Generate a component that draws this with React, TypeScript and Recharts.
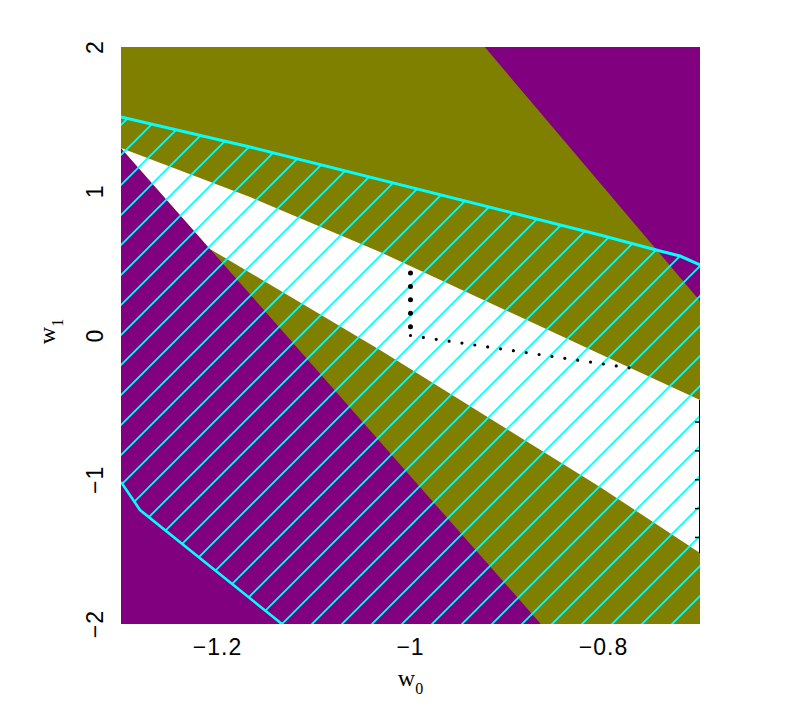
import React from 'react';
import { ComposedChart, XAxis, YAxis, Scatter } from 'recharts';

// Polygon / polyline vertices in data coordinates (w0, w1)
const backgroundPolygon = [
  { x: -1.3, y: 2 }, { x: -0.7, y: 2 }, { x: -0.7, y: -2 }, { x: -1.3, y: -2 },
];
const olivePolygon = [
  { x: -1.3, y: 2 }, { x: -0.923, y: 2 }, { x: -0.7, y: 0.239 }, { x: -0.7, y: -2 },
  { x: -0.865, y: -2 }, { x: -1.3, y: 1.3 },
];
const whitePolygon = [
  { x: -1.3, y: 1.3 }, { x: -1.1663, y: 0.96 }, { x: -1.0316, y: 0.579 }, { x: -0.8036, y: -0.128 },
  { x: -0.7, y: -0.447 }, { x: -0.7, y: -1.508 }, { x: -0.8036, y: -1.05 }, { x: -1.0316, y: -0.1 },
  { x: -1.2078, y: 0.6 },
];
const upperBorder = [
  { x: -1.3, y: 1.515 }, { x: -1.1663, y: 1.307 }, { x: -0.8036, y: 0.697 },
  { x: -0.7414, y: 0.586 }, { x: -0.7207, y: 0.551 }, { x: -0.7, y: 0.489 },
];
const lowerBorder = [
  { x: -1.3, y: -1.016 }, { x: -1.2803, y: -1.21 }, { x: -1.1332, y: -2 },
];
// the hatched region continues past the plot frame (clipped by the frame)
const hatchOuter = [
  { x: -0.69, y: 0.489 }, { x: -0.69, y: -2.05 }, { x: -1.1332, y: -2.05 },
];
const hatchOuterLeft = [{ x: -1.31, y: -1.016 }, { x: -1.31, y: 1.515 }];
const dotsVertical = [{ x: -1, y: 0.433 }, { x: -1, y: 0 }];
const dotsDiagonal = [{ x: -1, y: 0 }, { x: -0.7725, y: -0.225 }];
const edgeLine = [{ x: -0.7, y: -0.447 }, { x: -0.7, y: -1.508 }];
const edgeTickValues = [-0.6, -0.8, -1.0, -1.2, -1.4];

const xTicks = [-1.2, -1, -0.8];
const yTicks = [-2, -1, 0, 1, 2];

const hatchPolygon = [...upperBorder, ...hatchOuter, ...[...lowerBorder].reverse(), ...hatchOuterLeft];
const edgeTicks = edgeTickValues.map((v) => ({ x: -0.7, y: v }));

const PURPLE = '#800080';
const OLIVE = '#808000';
const CYAN = '#00ffff';

const fmt = (v: number) => String(v).replace('-', '\u2212');
const SANS = "'Liberation Sans', Arial, Helvetica, sans-serif";
const SERIF = "'Liberation Serif', 'Times New Roman', serif";

const XTick = (props: any) => {
  const { x, y, payload } = props;
  return (
    <text x={x} y={y + 31} textAnchor="middle" fontFamily={SANS} fontSize={23} letterSpacing={1} fill="#000">
      {fmt(payload.value)}
    </text>
  );
};

const YTick = (props: any) => {
  const { x, y, payload } = props;
  const bx = x - 18;
  return (
    <text x={bx} y={y} transform={`rotate(-90, ${bx}, ${y})`} textAnchor="middle" fontFamily={SANS} fontSize={23} letterSpacing={1} fill="#000">
      {fmt(payload.value)}
    </text>
  );
};

const XLabel = (props: any) => {
  const vb = props.viewBox || { x: 113, y: 616, width: 579, height: 75 };
  const cx = vb.x + vb.width / 2;
  return (
    <text x={cx} y={vb.y + 62} textAnchor="middle" fontFamily={SERIF} fontSize={24} fill="#000">
      w<tspan fontSize={16} dy={8}>0</tspan>
    </text>
  );
};

const YLabel = (props: any) => {
  const vb = props.viewBox || { x: 0, y: 39, width: 113, height: 577 };
  const cy = vb.y + vb.height / 2 - 4;
  const bx = vb.x + 47;
  return (
    <text x={bx} y={cy} transform={`rotate(-90, ${bx}, ${cy})`} textAnchor="middle" fontFamily={SERIF} fontSize={24} fill="#000">
      w<tspan fontSize={16} dy={8}>1</tspan>
    </text>
  );
};

const NoPoint = () => <g />;

const EdgeTick = (props: any) => {
  const { cx, cy } = props;
  return <line x1={cx - 5} x2={cx} y1={cy} y2={cy} stroke="#000" strokeWidth={1.5} />;
};

const polyLine = (fill: string) => ({ fill, stroke: 'none', strokeWidth: 0 });

export default function App() {
  return (
    <div style={{ width: 779, height: 691 }}>
      <ComposedChart width={779} height={691} margin={{ top: 39, right: 87, left: 0, bottom: 0 }}>
        <defs>
          <pattern id="hatch" patternUnits="userSpaceOnUse" x={-10} y={0} width={30} height={30}>
            <path d="M-5,5 L5,-5 M0,30 L30,0 M25,35 L35,25" stroke={CYAN} strokeWidth={1.7} fill="none" />
          </pattern>
        </defs>
        <XAxis type="number" dataKey="x" domain={[-1.3, -0.7]} ticks={xTicks} height={75} axisLine={false} tickLine={false} tickSize={0} tickMargin={0} tick={<XTick />} label={<XLabel />} allowDataOverflow />
        <YAxis type="number" dataKey="y" domain={[-2, 2]} ticks={yTicks} width={113} axisLine={false} tickLine={false} tickSize={0} tickMargin={0} tick={<YTick />} label={<YLabel />} allowDataOverflow />
        <Scatter data={backgroundPolygon} shape={NoPoint} line={polyLine(PURPLE)} lineType="joint" isAnimationActive={false} />
        <Scatter data={olivePolygon} shape={NoPoint} line={polyLine(OLIVE)} lineType="joint" isAnimationActive={false} />
        <Scatter data={whitePolygon} shape={NoPoint} line={polyLine('#ffffff')} lineType="joint" isAnimationActive={false} />
        <Scatter data={hatchPolygon} shape={NoPoint} line={polyLine('url(#hatch)')} lineType="joint" isAnimationActive={false} />
        <Scatter data={upperBorder} shape={NoPoint} line={{ fill: 'none', stroke: CYAN, strokeWidth: 3 }} lineType="joint" isAnimationActive={false} />
        <Scatter data={lowerBorder} shape={NoPoint} line={{ fill: 'none', stroke: CYAN, strokeWidth: 2.6 }} lineType="joint" isAnimationActive={false} />
        <Scatter data={dotsVertical} shape={NoPoint} line={{ fill: 'none', stroke: '#000', strokeWidth: 5, strokeDasharray: '0 13.4', strokeLinecap: 'round' }} lineType="joint" isAnimationActive={false} />
        <Scatter data={dotsDiagonal} shape={NoPoint} line={{ fill: 'none', stroke: '#000', strokeWidth: 3.2, strokeDasharray: '0 13', strokeLinecap: 'round' }} lineType="joint" isAnimationActive={false} />
        <Scatter data={edgeLine} shape={NoPoint} line={{ fill: 'none', stroke: '#000', strokeWidth: 2 }} lineType="joint" isAnimationActive={false} />
        <Scatter data={edgeTicks} shape={EdgeTick} isAnimationActive={false} />
      </ComposedChart>
    </div>
  );
}
